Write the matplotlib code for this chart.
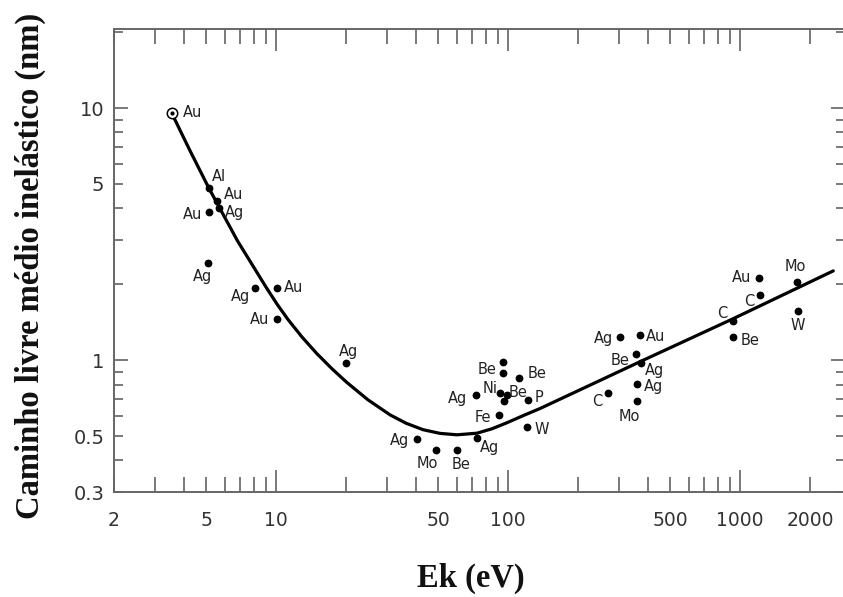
import numpy as np
import matplotlib
matplotlib.use("Agg")
import matplotlib.pyplot as plt
from matplotlib.ticker import LogLocator, FuncFormatter

# ---------------- data ----------------
ref_energy = [3.55]          # open-circle reference point (Au)
ref_imfp = [9.53]
ref_label = "Au"

elements = ["Al", "Au", "Ag", "Au", "Ag", "Ag", "Au", "Au", "Ag", "Ag",
            "Mo", "Be", "Ag", "Ag", "", "Be", "Be", "Ni", "Be", "",
            "P", "Fe", "W", "C", "Ag", "Au", "Be", "Ag", "Ag", "Mo",
            "C", "Be", "Au", "C", "Mo", "W"]
energy_eV = [5.15, 5.58, 5.67, 5.15, 5.10, 8.11, 10.05, 10.05, 20.1, 40.3,
             48.9, 60.2, 73.2, 73.0, 95.3, 95.3, 111, 92.2, 98.9, 96.0,
             122, 91.3, 121, 268.5, 303, 370, 355, 375, 360, 360,
             934, 934, 1209, 1215, 1752, 1780]
imfp_nm = [4.80, 4.29, 4.02, 3.86, 2.42, 1.94, 1.94, 1.455, 0.97, 0.489,
           0.442, 0.442, 0.49, 0.726, 0.985, 0.886, 0.848, 0.740, 0.726, 0.688,
           0.692, 0.605, 0.541, 0.738, 1.23, 1.256, 1.056, 0.97, 0.808, 0.688,
           1.432, 1.23, 2.12, 1.81, 2.05, 1.565]

curve_energy = [3.55, 4.25, 5.13, 6.81, 9.04, 10.08, 11.25, 12.92, 15.0, 17.41,
                20.20, 24.88, 30.95, 36.28, 42.95, 50.84, 60.18, 73.4, 85.2, 98.9,
                115.9, 137.2, 225.3, 370.1, 934, 2520]
curve_imfp = [9.53, 6.78, 4.81, 2.975, 1.949, 1.670, 1.449, 1.236, 1.060, 0.924,
              0.815, 0.696, 0.607, 0.5623, 0.530, 0.5124, 0.5058, 0.5133, 0.5345, 0.5649,
              0.6023, 0.643, 0.796, 0.986, 1.461, 2.26]

x_labeled = [2, 5, 10, 50, 100, 500, 1000, 2000]
y_labeled = [0.3, 0.5, 1, 5, 10]

# label offsets in pixels (dx right, dy down) -- layout only
label_offsets = [(10, -12), (16, -6), (16, 5), (-17, 2), (-6, 13), (-15, 9),
                 (17, 0), (-17, 0), (2, -12), (-17, 2), (-9, 14), (4, 15),
                 (13, 9), (-19, 3), (0, 0), (-16, -4), (18, -5), (-10, -5),
                 (11, -3), (0, 0), (11, -3), (-16, 2), (14, 2), (-10, 8),
                 (-16, 1), (16, 1), (-16, 6), (13, 7), (16, 3), (-8, 15),
                 (-11, -7), (17, 3), (-18, 0), (-11, 6), (-1, -15), (0, 14)]

# ---------------- figure ----------------
W, H = 843, 597
fig = plt.figure(figsize=(W / 100, H / 100), dpi=100)
left, right, bottom, top = 114, 845, 492, 29
ax = fig.add_axes([left / W, 1 - bottom / H, (right - left) / W, (bottom - top) / H])
ax.set_xscale("log")
ax.set_yscale("log")
ax.set_xlim(2, 2831)
ax.set_ylim(0.3, 20.58)

spine_col = "#666666"
for s in ax.spines.values():
    s.set_color(spine_col)
    s.set_linewidth(1.4)

ax.xaxis.set_major_locator(LogLocator(base=10, numticks=20))
ax.xaxis.set_minor_locator(LogLocator(base=10, subs=np.arange(2, 10), numticks=20))
ax.yaxis.set_major_locator(LogLocator(base=10, numticks=20))
ax.yaxis.set_minor_locator(LogLocator(base=10, subs=np.arange(2, 10), numticks=20))


def make_fmt(vals):
    def f(v, pos):
        for t in vals:
            if np.isclose(v, t, rtol=1e-6):
                return f"{t:g}"
        return ""
    return FuncFormatter(f)


ax.xaxis.set_major_formatter(make_fmt(x_labeled))
ax.xaxis.set_minor_formatter(make_fmt(x_labeled))
ax.yaxis.set_major_formatter(make_fmt(y_labeled))
ax.yaxis.set_minor_formatter(make_fmt(y_labeled))

tick_col = "#555555"
lab_col = "#333333"
ax.tick_params(axis="x", which="both", direction="in", top=True, bottom=True,
               color=tick_col, width=1.1, labelsize=13.5, labelcolor=lab_col, pad=14)
ax.tick_params(axis="x", which="major", length=16)
ax.tick_params(axis="x", which="minor", length=11)
ax.tick_params(axis="y", which="both", direction="in", left=True, right=True,
               color=tick_col, width=1.1, labelsize=14, labelcolor=lab_col, pad=7)
ax.tick_params(axis="y", which="major", length=10)
ax.tick_params(axis="y", which="minor", length=6.5)

# curve
ax.plot(curve_energy, curve_imfp, color="black", lw=2.3, zorder=2,
        solid_joinstyle="round", solid_capstyle="round")

# data points
ax.plot(energy_eV, imfp_nm, "o", color="black", ms=4.6, zorder=3, ls="none")
ax.plot(ref_energy, ref_imfp, "o", mfc="white", mec="black", mew=1.1, ms=7.5, zorder=4)
ax.plot(ref_energy, ref_imfp, "o", color="black", ms=2, zorder=5)
ax.annotate(ref_label, (ref_energy[0], ref_imfp[0]), xytext=(21 * 0.72, 0.5 * 0.72),
            textcoords="offset points", ha="center", va="center",
            fontsize=10.5, color="#222222")

for e, v, name, (dx, dy) in zip(energy_eV, imfp_nm, elements, label_offsets):
    if name:
        ax.annotate(name, (e, v), xytext=(dx * 0.72, -dy * 0.72),
                    textcoords="offset points", ha="center", va="center",
                    fontsize=10.5, color="#222222")

# axis titles
fig.text(30 / W, 1 - 266 / H, "Caminho livre médio inelástico (nm)", rotation=90,
         ha="center", va="center", fontsize=23.5, fontweight="bold",
         family="Liberation Serif", color="#111111")
fig.text(471 / W, 1 - 578 / H, "Ek (eV)", ha="center", va="center",
         fontsize=23.5, fontweight="bold", family="Liberation Serif", color="#111111")

fig.savefig("out.png", dpi=100)
